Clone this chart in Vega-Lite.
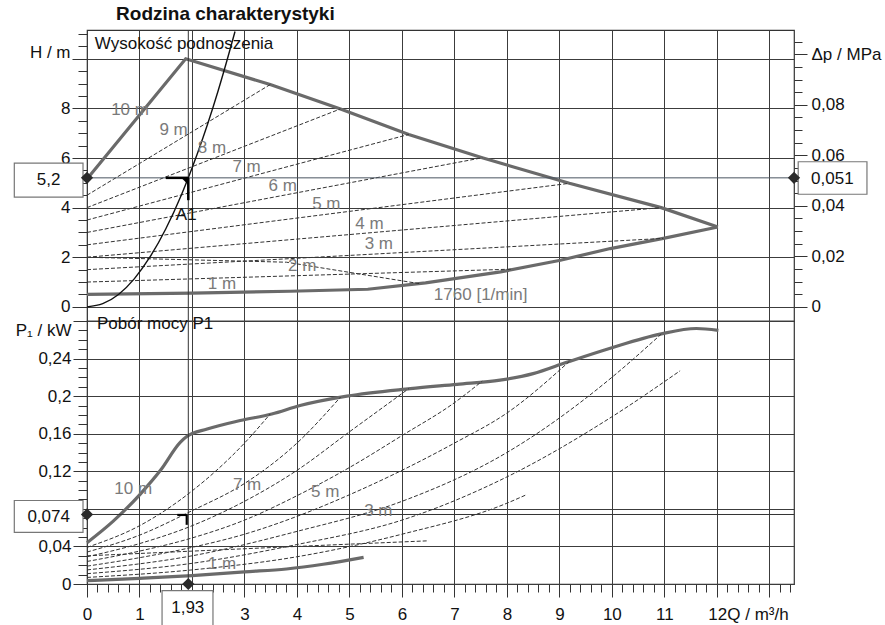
{
  "$schema": "https://vega.github.io/schema/vega-lite/v6.json",
  "background": "white",
  "padding": {"left": 13, "top": 5, "right": 5, "bottom": 0},
  "title": {"text": "Rodzina charakterystyki", "anchor": "start", "frame": "bounds", "dx": 103, "fontSize": 19, "fontWeight": "bold", "font": "Liberation Sans", "color": "#111", "offset": 0},
  "config": {
    "view": {"stroke": "#333", "strokeWidth": 1.2},
    "font": "Liberation Sans",
    "axis": {"labelFont": "Liberation Sans", "labelFontSize": 17, "labelColor": "#111", "tickColor": "#333", "tickWidth": 1, "gridColor": "#3c3c3c", "gridWidth": 1, "domain": false, "title": null, "labelOverlap": false, "labelFlush": false, "labelBound": false}
  },
  "datasets": {
    "top": [
      {"s": "max", "k": "thick", "Q": 0, "H": 5.15},
      {"s": "max", "k": "thick", "Q": 1.88, "H": 10.0},
      {"s": "max", "k": "thick", "Q": 3.49, "H": 8.96},
      {"s": "max", "k": "thick", "Q": 4.83, "H": 7.98},
      {"s": "max", "k": "thick", "Q": 6.13, "H": 6.95},
      {"s": "max", "k": "thick", "Q": 7.53, "H": 6.01},
      {"s": "max", "k": "thick", "Q": 9.19, "H": 4.98},
      {"s": "max", "k": "thick", "Q": 10.94, "H": 4.0},
      {"s": "max", "k": "thick", "Q": 12.02, "H": 3.22},
      {"s": "min", "k": "thick", "Q": 0, "H": 0.5},
      {"s": "min", "k": "thick", "Q": 2, "H": 0.55},
      {"s": "min", "k": "thick", "Q": 3.87, "H": 0.63},
      {"s": "min", "k": "thick", "Q": 5.35, "H": 0.71},
      {"s": "min", "k": "thick", "Q": 6.45, "H": 0.97},
      {"s": "min", "k": "thick", "Q": 7.88, "H": 1.41},
      {"s": "min", "k": "thick", "Q": 9.02, "H": 1.88},
      {"s": "min", "k": "thick", "Q": 9.97, "H": 2.35},
      {"s": "min", "k": "thick", "Q": 10.98, "H": 2.76},
      {"s": "min", "k": "thick", "Q": 12.02, "H": 3.22},
      {"s": "9m", "k": "dash", "Q": 0, "H": 4.5},
      {"s": "9m", "k": "dash", "Q": 3.49, "H": 8.96},
      {"s": "8m", "k": "dash", "Q": 0, "H": 4.0},
      {"s": "8m", "k": "dash", "Q": 4.83, "H": 7.98},
      {"s": "7m", "k": "dash", "Q": 0, "H": 3.5},
      {"s": "7m", "k": "dash", "Q": 6.13, "H": 6.95},
      {"s": "6m", "k": "dash", "Q": 0, "H": 3.0},
      {"s": "6m", "k": "dash", "Q": 7.53, "H": 6.01},
      {"s": "5m", "k": "dash", "Q": 0, "H": 2.5},
      {"s": "5m", "k": "dash", "Q": 9.19, "H": 4.98},
      {"s": "4m", "k": "dash", "Q": 0, "H": 2.0},
      {"s": "4m", "k": "dash", "Q": 10.94, "H": 4.0},
      {"s": "3m", "k": "dash", "Q": 0, "H": 1.5},
      {"s": "3m", "k": "dash", "Q": 10.98, "H": 2.76},
      {"s": "2m", "k": "dash", "Q": 0, "H": 1.0},
      {"s": "2m", "k": "dash", "Q": 8.1, "H": 1.52},
      {"s": "dec", "k": "dash", "Q": 0, "H": 2.0},
      {"s": "dec", "k": "dash", "Q": 3.8, "H": 1.8},
      {"s": "dec", "k": "dash", "Q": 6.35, "H": 0.93},
      {"s": "sys", "k": "sys", "Q": 0, "H": 0},
      {"s": "sys", "k": "sys", "Q": 0.3, "H": 0.13},
      {"s": "sys", "k": "sys", "Q": 0.6, "H": 0.5},
      {"s": "sys", "k": "sys", "Q": 0.9, "H": 1.13},
      {"s": "sys", "k": "sys", "Q": 1.2, "H": 2.01},
      {"s": "sys", "k": "sys", "Q": 1.5, "H": 3.14},
      {"s": "sys", "k": "sys", "Q": 1.8, "H": 4.52},
      {"s": "sys", "k": "sys", "Q": 1.93, "H": 5.2},
      {"s": "sys", "k": "sys", "Q": 2.1, "H": 6.16},
      {"s": "sys", "k": "sys", "Q": 2.3, "H": 7.38},
      {"s": "sys", "k": "sys", "Q": 2.5, "H": 8.72},
      {"s": "sys", "k": "sys", "Q": 2.7, "H": 10.18},
      {"s": "sys", "k": "sys", "Q": 2.82, "H": 11.1}
    ],
    "bot": [
      {"s": "max", "k": "thick", "Q": 0, "P": 0.044},
      {"s": "max", "k": "thick", "Q": 0.5, "P": 0.067},
      {"s": "max", "k": "thick", "Q": 1.02, "P": 0.096},
      {"s": "max", "k": "thick", "Q": 1.4, "P": 0.121},
      {"s": "max", "k": "thick", "Q": 1.78, "P": 0.151},
      {"s": "max", "k": "thick", "Q": 1.9, "P": 0.157},
      {"s": "max", "k": "thick", "Q": 2.29, "P": 0.165},
      {"s": "max", "k": "thick", "Q": 2.92, "P": 0.174},
      {"s": "max", "k": "thick", "Q": 3.52, "P": 0.181},
      {"s": "max", "k": "thick", "Q": 4.06, "P": 0.19},
      {"s": "max", "k": "thick", "Q": 4.95, "P": 0.2},
      {"s": "max", "k": "thick", "Q": 6.16, "P": 0.208},
      {"s": "max", "k": "thick", "Q": 7.05, "P": 0.2126},
      {"s": "max", "k": "thick", "Q": 7.87, "P": 0.217},
      {"s": "max", "k": "thick", "Q": 8.5, "P": 0.224},
      {"s": "max", "k": "thick", "Q": 9.14, "P": 0.236},
      {"s": "max", "k": "thick", "Q": 9.97, "P": 0.251},
      {"s": "max", "k": "thick", "Q": 10.92, "P": 0.266},
      {"s": "max", "k": "thick", "Q": 11.61, "P": 0.272},
      {"s": "max", "k": "thick", "Q": 12.03, "P": 0.27},
      {"s": "min", "k": "thick", "Q": 0, "P": 0.0035},
      {"s": "min", "k": "thick", "Q": 1, "P": 0.006},
      {"s": "min", "k": "thick", "Q": 2, "P": 0.009},
      {"s": "min", "k": "thick", "Q": 3, "P": 0.013},
      {"s": "min", "k": "thick", "Q": 3.8, "P": 0.016},
      {"s": "min", "k": "thick", "Q": 4.5, "P": 0.021},
      {"s": "min", "k": "thick", "Q": 5.27, "P": 0.0284},
      {"s": "9m", "k": "dash", "Q": 0, "P": 0.039},
      {"s": "9m", "k": "dash", "Q": 1, "P": 0.062},
      {"s": "9m", "k": "dash", "Q": 2, "P": 0.099},
      {"s": "9m", "k": "dash", "Q": 3, "P": 0.15},
      {"s": "9m", "k": "dash", "Q": 3.49, "P": 0.181},
      {"s": "8m", "k": "dash", "Q": 0, "P": 0.034},
      {"s": "8m", "k": "dash", "Q": 1, "P": 0.052},
      {"s": "8m", "k": "dash", "Q": 2, "P": 0.078},
      {"s": "8m", "k": "dash", "Q": 3, "P": 0.107},
      {"s": "8m", "k": "dash", "Q": 4, "P": 0.15},
      {"s": "8m", "k": "dash", "Q": 4.83, "P": 0.199},
      {"s": "7m", "k": "dash", "Q": 0, "P": 0.029},
      {"s": "7m", "k": "dash", "Q": 1, "P": 0.043},
      {"s": "7m", "k": "dash", "Q": 2, "P": 0.062},
      {"s": "7m", "k": "dash", "Q": 3, "P": 0.088},
      {"s": "7m", "k": "dash", "Q": 4, "P": 0.121},
      {"s": "7m", "k": "dash", "Q": 5, "P": 0.162},
      {"s": "7m", "k": "dash", "Q": 6.13, "P": 0.208},
      {"s": "6m", "k": "dash", "Q": 0, "P": 0.024},
      {"s": "6m", "k": "dash", "Q": 1, "P": 0.035},
      {"s": "6m", "k": "dash", "Q": 2, "P": 0.049},
      {"s": "6m", "k": "dash", "Q": 3, "P": 0.068},
      {"s": "6m", "k": "dash", "Q": 4, "P": 0.094},
      {"s": "6m", "k": "dash", "Q": 5, "P": 0.124},
      {"s": "6m", "k": "dash", "Q": 6, "P": 0.158},
      {"s": "6m", "k": "dash", "Q": 7, "P": 0.193},
      {"s": "6m", "k": "dash", "Q": 7.53, "P": 0.216},
      {"s": "5m", "k": "dash", "Q": 0, "P": 0.019},
      {"s": "5m", "k": "dash", "Q": 1, "P": 0.028},
      {"s": "5m", "k": "dash", "Q": 2, "P": 0.039},
      {"s": "5m", "k": "dash", "Q": 3, "P": 0.053},
      {"s": "5m", "k": "dash", "Q": 4, "P": 0.072},
      {"s": "5m", "k": "dash", "Q": 5, "P": 0.095},
      {"s": "5m", "k": "dash", "Q": 6, "P": 0.121},
      {"s": "5m", "k": "dash", "Q": 7, "P": 0.15},
      {"s": "5m", "k": "dash", "Q": 8, "P": 0.182},
      {"s": "5m", "k": "dash", "Q": 9.19, "P": 0.237},
      {"s": "4m", "k": "dash", "Q": 0, "P": 0.015},
      {"s": "4m", "k": "dash", "Q": 2, "P": 0.03},
      {"s": "4m", "k": "dash", "Q": 4, "P": 0.056},
      {"s": "4m", "k": "dash", "Q": 6, "P": 0.088},
      {"s": "4m", "k": "dash", "Q": 8, "P": 0.14},
      {"s": "4m", "k": "dash", "Q": 10, "P": 0.22},
      {"s": "4m", "k": "dash", "Q": 10.94, "P": 0.266},
      {"s": "3m", "k": "dash", "Q": 0, "P": 0.011},
      {"s": "3m", "k": "dash", "Q": 2, "P": 0.022},
      {"s": "3m", "k": "dash", "Q": 4, "P": 0.042},
      {"s": "3m", "k": "dash", "Q": 6, "P": 0.068},
      {"s": "3m", "k": "dash", "Q": 8, "P": 0.114},
      {"s": "3m", "k": "dash", "Q": 10, "P": 0.178},
      {"s": "3m", "k": "dash", "Q": 11.3, "P": 0.227},
      {"s": "2m", "k": "dash", "Q": 0, "P": 0.007},
      {"s": "2m", "k": "dash", "Q": 2, "P": 0.015},
      {"s": "2m", "k": "dash", "Q": 4, "P": 0.029},
      {"s": "2m", "k": "dash", "Q": 6, "P": 0.053},
      {"s": "2m", "k": "dash", "Q": 8, "P": 0.086},
      {"s": "2m", "k": "dash", "Q": 8.37, "P": 0.095},
      {"s": "flat", "k": "dash", "Q": 0, "P": 0.03},
      {"s": "flat", "k": "dash", "Q": 2, "P": 0.035},
      {"s": "flat", "k": "dash", "Q": 4, "P": 0.04},
      {"s": "flat", "k": "dash", "Q": 6.51, "P": 0.046}
    ],
    "topText": [
      {"t": "10 m", "Q": 0.82, "H": 7.93},
      {"t": "9 m", "Q": 1.65, "H": 7.13},
      {"t": "8 m", "Q": 2.38, "H": 6.39},
      {"t": "7 m", "Q": 3.04, "H": 5.65},
      {"t": "6 m", "Q": 3.73, "H": 4.87},
      {"t": "5 m", "Q": 4.56, "H": 4.14},
      {"t": "4 m", "Q": 5.38, "H": 3.36},
      {"t": "3 m", "Q": 5.56, "H": 2.55},
      {"t": "2 m", "Q": 4.1, "H": 1.65},
      {"t": "1 m", "Q": 2.57, "H": 0.94},
      {"t": "1760 [1/min]", "Q": 7.5, "H": 0.47}
    ],
    "botText": [
      {"t": "10 m", "Q": 0.88, "P": 0.101},
      {"t": "7 m", "Q": 3.05, "P": 0.105},
      {"t": "5 m", "Q": 4.54, "P": 0.098},
      {"t": "3 m", "Q": 5.55, "P": 0.0775},
      {"t": "1 m", "Q": 2.57, "P": 0.0213}
    ]
  },
  "vconcat": [
    {
      "width": 707,
      "height": 291,
      "resolve": {"scale": {"y": "independent"}, "axis": {"y": "independent"}},
      "layer": [
        {
          "layer": [
            {
              "data": {"name": "top"},
              "transform": [{"filter": "datum.k == 'thick'"}],
              "mark": {"type": "line", "color": "#6a6a6a", "strokeWidth": 3.2},
              "encoding": {
                "x": {"field": "Q", "type": "quantitative", "title": null, "scale": {"domain": [0, 13.47], "nice": false, "zero": false},
                  "axis": {"values": [0,1,2,3,4,5,6,7,8,9,10,11,12,13], "tickCount": 1000, "labels": false, "ticks": false, "domain": false, "title": null, "grid": true}},
                "y": {"field": "H", "type": "quantitative", "title": null, "scale": {"domain": [-0.57, 11.16], "nice": false, "zero": false},
                  "axis": {"orient": "left", "values": [0,0.5,1,1.5,2,2.5,3,3.5,4,4.5,5,5.5,6,6.5,7,7.5,8,8.5,9,9.5,10,10.5,11], "tickCount": 1000,
                    "grid": true, "labelOverlap": false,
                    "gridOpacity": {"condition": {"test": "datum.value % 2 == 0", "value": 1}, "value": 0},
                    "tickSize": {"condition": {"test": "datum.value % 2 == 0", "value": 15}, "value": 9},
                    "labelOffset": {"condition": {"test": "datum.value == 10", "value": -6}, "value": 0},
                    "labelPadding": 2,
                    "labelExpr": "datum.value == 10 ? 'H / m' : (datum.value % 2 == 0 ? replace(format(datum.value, '~g'), '.', ',') : '')"}},
                "detail": {"field": "s"}
              }
            },
            {
              "data": {"name": "top"},
              "transform": [{"filter": "datum.k == 'dash'"}],
              "mark": {"type": "line", "color": "#333", "strokeWidth": 1, "strokeDash": [4, 2]},
              "encoding": {
                "x": {"field": "Q", "type": "quantitative", "title": null},
                "y": {"field": "H", "type": "quantitative", "title": null},
                "detail": {"field": "s"}
              }
            },
            {
              "data": {"name": "top"},
              "transform": [{"filter": "datum.k == 'sys'"}],
              "mark": {"type": "line", "color": "#111", "strokeWidth": 1.4, "interpolate": "monotone"},
              "encoding": {
                "x": {"field": "Q", "type": "quantitative", "title": null},
                "y": {"field": "H", "type": "quantitative", "title": null}
              }
            },
            {
              "data": {"values": [{"H": 5.2}]},
              "mark": {"type": "rule", "color": "#4a5560", "strokeWidth": 1},
              "encoding": {"y": {"field": "H", "type": "quantitative", "title": null}}
            },
            {
              "data": {"values": [{"Q": 1.93}]},
              "mark": {"type": "rule", "color": "#333", "strokeWidth": 1},
              "encoding": {"x": {"field": "Q", "type": "quantitative", "title": null}}
            },
            {
              "data": {"values": [{"Q": 1.5, "Q2": 1.93, "H": 5.2, "H2": 5.2}, {"Q": 1.93, "Q2": 1.93, "H": 5.2, "H2": 4.3}]},
              "mark": {"type": "rule", "color": "#000", "strokeWidth": 2.5},
              "encoding": {
                "x": {"field": "Q", "type": "quantitative", "title": null}, "x2": {"field": "Q2"},
                "y": {"field": "H", "type": "quantitative", "title": null}, "y2": {"field": "H2"}
              }
            },
            {
              "data": {"values": [{"Q": 1.86, "H": 5.07}]},
              "mark": {"type": "point", "shape": "M-1,-1L1,-1L1,1Z", "filled": true, "color": "#000", "size": 70, "opacity": 1},
              "encoding": {"x": {"field": "Q", "type": "quantitative", "title": null}, "y": {"field": "H", "type": "quantitative", "title": null}}
            },
            {
              "data": {"name": "topText"},
              "mark": {"type": "text", "fontSize": 17, "color": "#7a7a7a", "align": "center", "baseline": "middle"},
              "encoding": {"x": {"field": "Q", "type": "quantitative", "title": null}, "y": {"field": "H", "type": "quantitative", "title": null}, "text": {"field": "t"}}
            },
            {
              "data": {"values": [{"t": "A1", "Q": 1.89, "H": 3.7}]},
              "mark": {"type": "text", "fontSize": 17, "color": "#111", "align": "center", "baseline": "middle"},
              "encoding": {"x": {"field": "Q", "type": "quantitative", "title": null}, "y": {"field": "H", "type": "quantitative", "title": null}, "text": {"field": "t"}}
            },
            {
              "data": {"values": [{"t": "Wysokość podnoszenia", "Q": 0.15, "H": 10.6}]},
              "mark": {"type": "text", "fontSize": 17, "color": "#111", "align": "left", "baseline": "middle"},
              "encoding": {"x": {"field": "Q", "type": "quantitative", "title": null}, "y": {"field": "H", "type": "quantitative", "title": null}, "text": {"field": "t"}}
            },
            {
              "data": {"values": [{"Q": -1.385, "Q2": -0.076, "H": 5.79, "H2": 4.42}, {"Q": 13.55, "Q2": 14.86, "H": 5.85, "H2": 4.54}]},
              "mark": {"type": "rect", "fill": "white", "stroke": "#777", "strokeWidth": 1.2},
              "encoding": {
                "x": {"field": "Q", "type": "quantitative", "title": null}, "x2": {"field": "Q2"},
                "y": {"field": "H", "type": "quantitative", "title": null}, "y2": {"field": "H2"}
              }
            },
            {
              "data": {"values": [{"t": "5,2", "Q": -0.73, "H": 5.1}, {"t": "0,051", "Q": 14.2, "H": 5.15}]},
              "mark": {"type": "text", "fontSize": 17, "color": "#111", "align": "center", "baseline": "middle"},
              "encoding": {"x": {"field": "Q", "type": "quantitative", "title": null}, "y": {"field": "H", "type": "quantitative", "title": null}, "text": {"field": "t"}}
            },
            {
              "data": {"values": [{"Q": 0, "H": 5.2}, {"Q": 13.47, "H": 5.2}]},
              "mark": {"type": "point", "shape": "diamond", "filled": true, "color": "#2a2a2a", "size": 150, "opacity": 1},
              "encoding": {"x": {"field": "Q", "type": "quantitative", "title": null}, "y": {"field": "H", "type": "quantitative", "title": null}}
            }
          ]
        },
        {
          "data": {"values": [{"dp": 0}, {"dp": 0.1}]},
          "mark": {"type": "point", "opacity": 0},
          "encoding": {
            "y": {"field": "dp", "type": "quantitative", "title": null, "scale": {"domain": [-0.0056, 0.1096], "nice": false, "zero": false},
              "axis": {"orient": "right", "values": [0,0.005,0.01,0.015,0.02,0.025,0.03,0.035,0.04,0.045,0.05,0.055,0.06,0.065,0.07,0.075,0.08,0.085,0.09,0.095,0.1,0.105], "tickCount": 1000,
                "grid": false, "labelOverlap": false,
                "tickSize": {"condition": {"test": "abs(datum.value*50 - round(datum.value*50)) < 0.01", "value": 13}, "value": 8},
                "labelPadding": 4,
                "labelExpr": "abs(datum.value - 0.1) < 0.001 ? 'Δp / MPa' : (abs(datum.value*50 - round(datum.value*50)) < 0.01 ? replace(format(datum.value, '~g'), '.', ',') : '')"}}
          }
        }
      ]
    },
    {
      "width": 707,
      "height": 263,
      "layer": [
        {
          "data": {"name": "bot"},
          "transform": [{"filter": "datum.k == 'thick'"}],
          "mark": {"type": "line", "color": "#6a6a6a", "strokeWidth": 3.2, "interpolate": "monotone"},
          "encoding": {
            "x": {"field": "Q", "type": "quantitative", "title": null, "scale": {"domain": [0, 13.47], "nice": false, "zero": false},
              "axis": {"values": [0,0.2,0.4,0.6,0.8,1,1.2,1.4,1.6,1.8,2,2.2,2.4,2.6,2.8,3,3.2,3.4,3.6,3.8,4,4.2,4.4,4.6,4.8,5,5.2,5.4,5.6,5.8,6,6.2,6.4,6.6,6.8,7,7.2,7.4,7.6,7.8,8,8.2,8.4,8.6,8.8,9,9.2,9.4,9.6,9.8,10,10.2,10.4,10.6,10.8,11,11.2,11.4,11.6,11.8,12,12.2,12.4,12.6,12.8,13,13.2,13.4], "tickCount": 1000,
                "grid": true, "labelOverlap": false, "labelFlush": false, "labelBound": false,
                "gridOpacity": {"condition": {"test": "abs(datum.value - round(datum.value)) < 0.01", "value": 1}, "value": 0},
                "tickSize": {"condition": {"test": "abs(datum.value - round(datum.value)) < 0.01", "value": 13}, "value": 8},
                "labelAlign": {"condition": {"test": "abs(datum.value - 12) < 0.01", "value": "left"}, "value": "center"},
                "labelOffset": {"condition": {"test": "abs(datum.value - 12) < 0.01", "value": -9}, "value": 0},
                "labelPadding": 9,
                "labelExpr": "abs(datum.value - round(datum.value)) < 0.01 && datum.value < 12.5 && abs(datum.value - 2) > 0.01 ? (abs(datum.value - 12) < 0.01 ? '12Q / m³/h' : '' + round(datum.value)) : ''"}},
            "y": {"field": "P", "type": "quantitative", "title": null, "scale": {"domain": [0, 0.28], "nice": false, "zero": false},
              "axis": {"orient": "left", "values": [0,0.01,0.02,0.03,0.04,0.05,0.06,0.07,0.08,0.09,0.1,0.11,0.12,0.13,0.14,0.15,0.16,0.17,0.18,0.19,0.2,0.21,0.22,0.23,0.24,0.25,0.26,0.27,0.28], "tickCount": 1000,
                "grid": true, "labelOverlap": false, "labelBound": false,
                "gridOpacity": {"condition": {"test": "abs(datum.value*25 - round(datum.value*25)) < 0.01", "value": 1}, "value": 0},
                "tickSize": {"condition": {"test": "abs(datum.value*25 - round(datum.value*25)) < 0.01", "value": 14}, "value": 9},
                "labelOffset": {"condition": {"test": "datum.value > 0.275", "value": 9}, "value": 0},
                "labelPadding": 2,
                "labelExpr": "datum.value > 0.275 ? 'P₁ / kW' : (abs(datum.value*25 - round(datum.value*25)) < 0.01 && abs(datum.value - 0.08) > 0.001 ? replace(format(datum.value, '~g'), '.', ',') : '')"}},
            "detail": {"field": "s"}
          }
        },
        {
          "data": {"name": "bot"},
          "transform": [{"filter": "datum.k == 'dash'"}],
          "mark": {"type": "line", "color": "#333", "strokeWidth": 1, "strokeDash": [4, 2], "interpolate": "monotone"},
          "encoding": {
            "x": {"field": "Q", "type": "quantitative", "title": null},
            "y": {"field": "P", "type": "quantitative", "title": null},
            "detail": {"field": "s"}
          }
        },
        {
          "data": {"values": [{"P": 0.074}]},
          "mark": {"type": "rule", "color": "#333", "strokeWidth": 1},
          "encoding": {"y": {"field": "P", "type": "quantitative", "title": null}}
        },
        {
          "data": {"values": [{"Q": 1.93}]},
          "mark": {"type": "rule", "color": "#333", "strokeWidth": 1},
          "encoding": {"x": {"field": "Q", "type": "quantitative", "title": null}}
        },
        {
          "data": {"values": [{"Q": 1.72, "Q2": 1.9, "P": 0.0735, "P2": 0.0735}, {"Q": 1.9, "Q2": 1.9, "P": 0.0735, "P2": 0.063}]},
          "mark": {"type": "rule", "color": "#000", "strokeWidth": 2.2},
          "encoding": {
            "x": {"field": "Q", "type": "quantitative", "title": null}, "x2": {"field": "Q2"},
            "y": {"field": "P", "type": "quantitative", "title": null}, "y2": {"field": "P2"}
          }
        },
        {
          "data": {"name": "botText"},
          "mark": {"type": "text", "fontSize": 17, "color": "#7a7a7a", "align": "center", "baseline": "middle"},
          "encoding": {"x": {"field": "Q", "type": "quantitative", "title": null}, "y": {"field": "P", "type": "quantitative", "title": null}, "text": {"field": "t"}}
        },
        {
          "data": {"values": [{"t": "Pobór mocy P1", "Q": 0.19, "P": 0.2765}]},
          "mark": {"type": "text", "fontSize": 17, "color": "#111", "align": "left", "baseline": "middle"},
          "encoding": {"x": {"field": "Q", "type": "quantitative", "title": null}, "y": {"field": "P", "type": "quantitative", "title": null}, "text": {"field": "t"}}
        },
        {
          "data": {"values": [{"Q": -1.385, "Q2": -0.076, "P": 0.0889, "P2": 0.055}, {"Q": 1.43, "Q2": 2.4, "P": -0.0071, "P2": -0.052}]},
          "mark": {"type": "rect", "fill": "white", "stroke": "#777", "strokeWidth": 1.2},
          "encoding": {
            "x": {"field": "Q", "type": "quantitative", "title": null}, "x2": {"field": "Q2"},
            "y": {"field": "P", "type": "quantitative", "title": null}, "y2": {"field": "P2"}
          }
        },
        {
          "data": {"values": [{"t": "0,074", "Q": -0.73, "P": 0.0715}, {"t": "1,93", "Q": 1.92, "P": -0.0255}]},
          "mark": {"type": "text", "fontSize": 17, "color": "#111", "align": "center", "baseline": "middle"},
          "encoding": {"x": {"field": "Q", "type": "quantitative", "title": null}, "y": {"field": "P", "type": "quantitative", "title": null}, "text": {"field": "t"}}
        },
        {
          "data": {"values": [{"Q": 0, "P": 0.074}, {"Q": 1.93, "P": 0}]},
          "mark": {"type": "point", "shape": "diamond", "filled": true, "color": "#2a2a2a", "size": 150, "opacity": 1},
          "encoding": {"x": {"field": "Q", "type": "quantitative", "title": null}, "y": {"field": "P", "type": "quantitative", "title": null}}
        }
      ]
    }
  ],
  "spacing": 0,
  "bounds": "flush"
}
